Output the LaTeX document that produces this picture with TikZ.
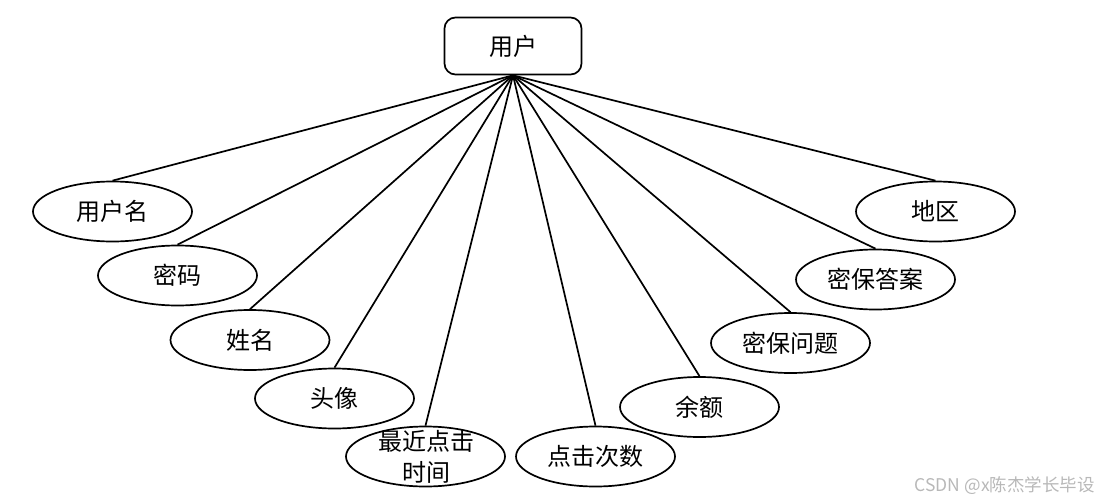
\documentclass[tikz,border=0pt]{standalone}
\usepackage{fontspec}
\setmainfont{Noto Sans CJK SC}
\usetikzlibrary{shapes.geometric}
\begin{document}
\begin{tikzpicture}[x=1pt,y=-1pt,
  attr/.style={draw, line width=1.7pt, ellipse, minimum width=159pt, minimum height=60pt, inner sep=0pt, font=\fontsize{24}{31}\selectfont},
  attrtext/.style={font=\fontsize{24}{31}\selectfont, align=center, inner sep=0pt},
  ent/.style={draw, line width=1.7pt, rounded corners=11pt, minimum width=137pt, minimum height=57pt, inner sep=0pt, font=\fontsize{24}{31}\selectfont},
  link/.style={line width=1.7pt},
  wmark/.style={font=\fontsize{17.5}{20}\selectfont, text=black!28, inner sep=0pt}]
\useasboundingbox (0,0) rectangle (1099,503);
\node[ent] (user) at (513,46) {用户};
\node[attr] (a1) at (112.5,211.5) {用户名};
\node[attr] (a2) at (177.5,275.5) {密码};
\node[attr] (a3) at (250,340) {姓名};
\node[attr] (a4) at (334.5,398.5) {头像};
\node[attr] (a5) at (425.5,456.5) {};
\node[attrtext] (a5t) at (426,457) {最近点击\\时间};
\node[attr] (a6) at (595.5,456.5) {点击次数};
\node[attr] (a7) at (699.5,407) {余额};
\node[attr] (a8) at (790.5,343) {密保问题};
\node[attr] (a9) at (875.5,279.5) {密保答案};
\node[attr] (a10) at (935.5,211.5) {地区};
\foreach \n in {a1,a2,a3,a4,a5,a6,a7,a8,a9,a10}
  \draw[link] (user.south) -- (\n.north);
\node[wmark, anchor=east] (wm) at (1095,486) {CSDN @x陈杰学长毕设};
\end{tikzpicture}
\end{document}
